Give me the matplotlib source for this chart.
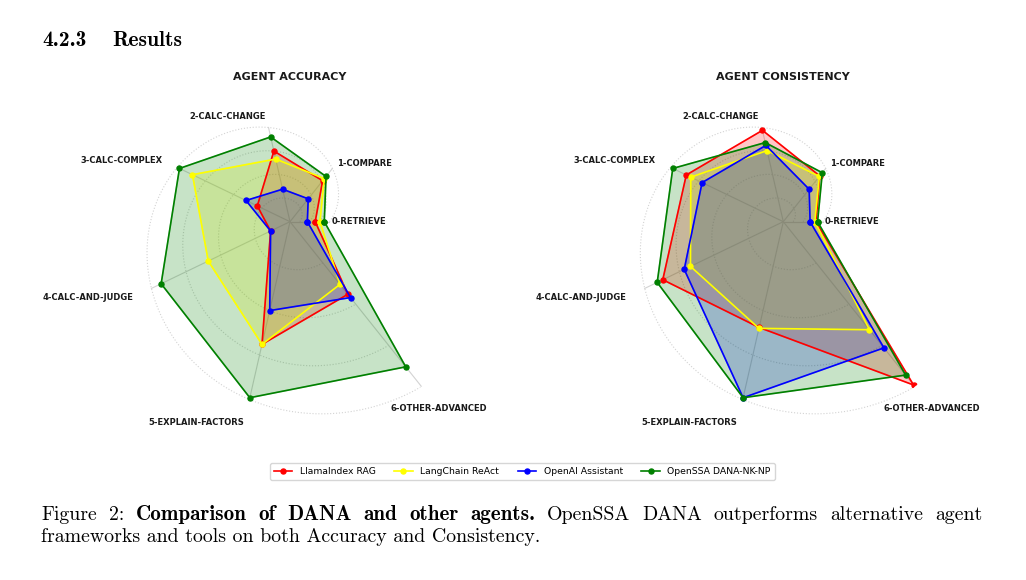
import numpy as np
import matplotlib
matplotlib.use('Agg')
import matplotlib.pyplot as plt
from matplotlib.lines import Line2D

categories = ['0-RETRIEVE', '1-COMPARE', '2-CALC-CHANGE', '3-CALC-COMPLEX',
              '4-CALC-AND-JUDGE', '5-EXPLAIN-FACTORS', '6-OTHER-ADVANCED']
agents = ['LlamaIndex RAG', 'LangChain ReAct', 'OpenAI Assistant', 'OpenSSA DANA-NK-NP']
agent_colors = ['red', 'yellow', 'blue', 'green']

# agent accuracy per category
acc_llamaindex = [0.64, 0.77, 0.75, 0.29, 0.14, 0.69, 0.44]
acc_langchain = [0.76, 0.81, 0.665, 0.865, 0.59, 0.69, 0.38]
acc_openai = [0.44, 0.43, 0.345, 0.39, 0.14, 0.50, 0.46]
acc_openssa = [0.87, 0.85, 0.90, 0.98, 0.93, 0.99, 0.88]

# agent consistency per category
con_llamaindex = [0.83, 0.86, 0.97, 0.86, 0.87, 0.595, 0.99]
con_langchain = [0.80, 0.85, 0.755, 0.82, 0.67, 0.60, 0.655]
con_openai = [0.68, 0.61, 0.81, 0.72, 0.715, 0.99, 0.765]
con_openssa = [0.87, 0.92, 0.84, 0.98, 0.91, 0.99, 0.93]

grid_levels = [0.25, 0.5, 0.75, 1.0]

angles = np.arange(len(categories)) * 2 * np.pi / len(categories)
theta_max = angles[-1]


# the rings in the original grow outwards with the angle (spiral)
def spiral(theta):
    return (39.4 + 31.86 * theta) / (39.4 + 31.86 * theta_max)


label_ha = ['left', 'left', 'right', 'right', 'right', 'right', 'center']
label_pad = [1.06, 1.10, 1.12, 1.13, 1.13, 1.13, 1.13]


def radar(ax, series, title, title_x):
    t = np.linspace(0, theta_max, 400)
    for lvl in grid_levels:
        ax.plot(t, lvl * spiral(t), color='lightgray', ls=':', lw=0.8, zorder=1)
    for a in angles:
        ax.plot([a, a], [0, spiral(a)], color='lightgray', lw=0.8, zorder=1)

    closed = np.append(angles, angles[0])
    for vals, c, name in zip(series, agent_colors, agents):
        r = np.array(vals) * spiral(angles)
        r = np.append(r, r[0])
        ax.fill(closed, r, color=c, alpha=0.22, zorder=2)
        ax.plot(closed, r, 'o-', color=c, lw=1.2, ms=3.6, label=name, zorder=3)

    for a, cat, ha, pad in zip(angles, categories, label_ha, label_pad):
        ax.text(a, pad * spiral(a), cat, ha=ha, va='center', fontsize=6,
                fontweight='bold', color='#1a1a1a')

    ax.set_ylim(0, 1)
    ax.set_xticks([])
    ax.set_yticks([])
    ax.grid(False)
    ax.spines['polar'].set_visible(False)
    ax.patch.set_alpha(0)
    fig.text(title_x, 1 - 77.3 / 580, title, ha='center', va='center',
             fontsize=8, fontweight='bold', color='#1a1a1a')


fig = plt.figure(figsize=(10.26, 5.8), dpi=100)

ax1 = fig.add_axes([0.0770, 0.2540, 0.4113, 0.7276], projection='polar')
radar(ax1, [acc_llamaindex, acc_langchain, acc_openai, acc_openssa],
      'AGENT ACCURACY', 290 / 1026)
ax2 = fig.add_axes([0.5578, 0.2540, 0.4113, 0.7276], projection='polar')
radar(ax2, [con_llamaindex, con_langchain, con_openai, con_openssa],
      'AGENT CONSISTENCY', 783.3 / 1026)

handles = [Line2D([], [], color=c, marker='o', lw=1.2, ms=3.6) for c in agent_colors]
fig.legend(handles, agents, loc='center', bbox_to_anchor=(0.509, 0.187),
           ncol=4, fontsize=6.7, frameon=True)

# section heading
fig.text(42 / 1026, 1 - 46 / 580, '4.2.3', family='cmb10', fontsize=15.5, va='baseline')
fig.text(112.3 / 1026, 1 - 46 / 580, 'Results', family='cmb10', fontsize=15.5, va='baseline')

# caption, first line justified between the margins
cap_size = 14.3
words = [('Figure', 'cmr10'), ('2:', 'cmr10'), ('Comparison', 'cmb10'), ('of', 'cmb10'),
         ('DANA', 'cmb10'), ('and', 'cmb10'), ('other', 'cmb10'), ('agents.', 'cmb10'),
         ('OpenSSA', 'cmr10'), ('DANA', 'cmr10'), ('outperforms', 'cmr10'),
         ('alternative', 'cmr10'), ('agent', 'cmr10')]
renderer = fig.canvas.get_renderer()
texts = []
for w, fam in words:
    size = cap_size * 1.06 if fam == 'cmb10' else cap_size
    texts.append(fig.text(0, 1 - 520 / 580, w, family=fam, fontsize=size, va='baseline'))
widths = [t.get_window_extent(renderer).width for t in texts]
x0, x1 = 41.0, 982.0
gap = (x1 - x0 - sum(widths)) / (len(words) - 1)
x = x0
for t, w in zip(texts, widths):
    t.set_x(x / 1026)
    x += w + gap
fig.text(x0 / 1026, 1 - 542.5 / 580, 'frameworks and tools on both Accuracy and Consistency.',
         family='cmr10', fontsize=cap_size, va='baseline')

fig.savefig('out.png', dpi=100)
